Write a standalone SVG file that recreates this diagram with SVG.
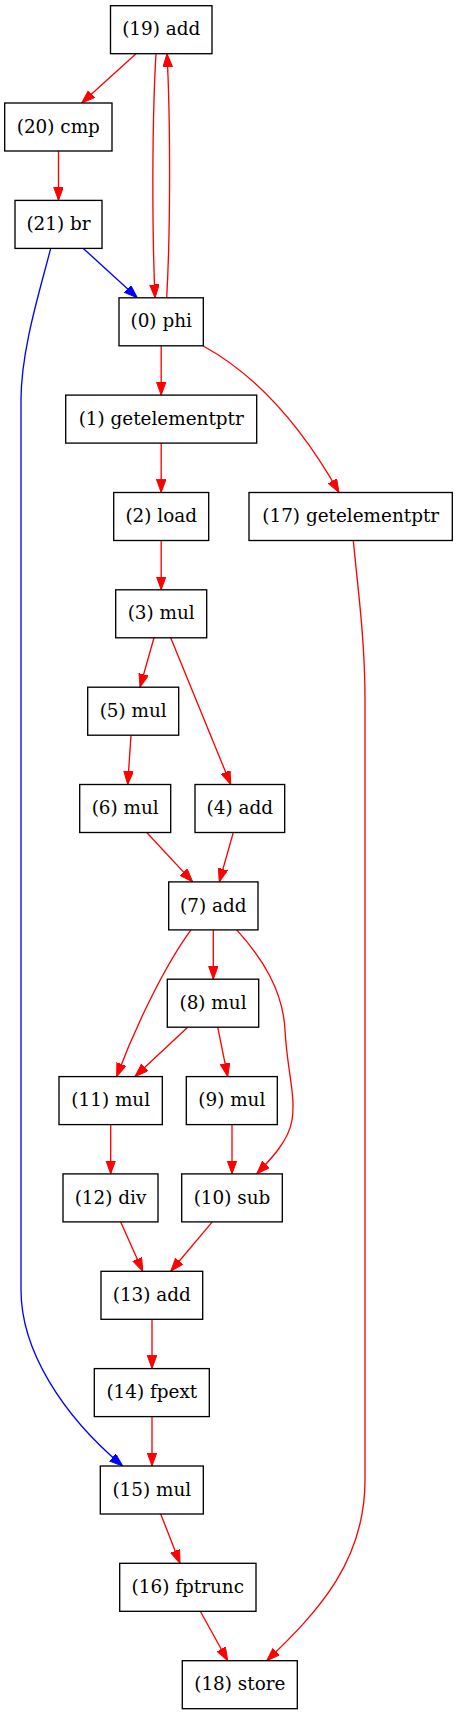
<svg xmlns="http://www.w3.org/2000/svg" width="457" height="1715" viewBox="0 0 457 1715">
<style>
rect.n{fill:#fff;stroke:#000;stroke-width:1.33}
text{font-family:"DejaVu Serif","Liberation Serif",serif;font-size:18.4px;text-anchor:middle;fill:#000}
.r{fill:none;stroke:#f00;stroke-width:1.33;marker-end:url(#ar)}
.b{fill:none;stroke:#00f;stroke-width:1.33;marker-end:url(#ab)}
</style>
<defs>
<marker id="ar" markerUnits="userSpaceOnUse" markerWidth="16" markerHeight="12" refX="13.3" refY="4.8" orient="auto"><path d="M0,0 L13.3,4.8 L0,9.6 z" fill="#f00" stroke="#f00" stroke-width="1"/></marker>
<marker id="ab" markerUnits="userSpaceOnUse" markerWidth="16" markerHeight="12" refX="13.3" refY="4.8" orient="auto"><path d="M0,0 L13.3,4.8 L0,9.6 z" fill="#00f" stroke="#00f" stroke-width="1"/></marker>
</defs>
<rect width="457" height="1715" fill="#fff"/>
<g id="edges">
<path class="r" d="M136,53.7 L81.7,103"/>
<path class="r" d="M156,53.7 C152,120 152,230 155,297.8"/>
<path class="r" d="M166.7,297.8 C170.5,230 170.5,120 167,53.7"/>
<path class="r" d="M58.5,151 L58.5,200.4"/>
<path class="b" d="M83.3,248.4 L137.3,297.8"/>
<path class="b" d="M50.7,248.4 C40,290 21,350 21,400 L21,1290 C21,1350 62,1415 122.7,1466"/>
<path class="r" d="M161.2,345.8 L161.2,395.1"/>
<path class="r" d="M203.3,346 C256,375 302,427 339,492.5"/>
<path class="r" d="M161.2,443.1 L161.2,492.5"/>
<path class="r" d="M161.2,540.5 L161.2,589.8"/>
<path class="r" d="M353.3,540.5 C358,590 365,640 365,700 L365,1480 C365,1560 320,1610 266.7,1660.7"/>
<path class="r" d="M154,637.8 L140,687.2"/>
<path class="r" d="M170.7,637.8 L230.7,784.5"/>
<path class="r" d="M131,735.2 L127.7,784.5"/>
<path class="r" d="M146.7,832.5 L192.7,881.9"/>
<path class="r" d="M233.3,832.5 L219.3,881.9"/>
<path class="r" d="M213.3,929.9 L213.3,979.2"/>
<path class="r" d="M191,929.9 C166,964 136.7,1023 116.7,1076.6"/>
<path class="r" d="M236.7,929.9 C262,958 283,990 285,1030 C287,1070 296,1095 292,1120 C289,1140 272,1158 256.7,1173.9"/>
<path class="r" d="M187.7,1027.2 L135,1076.6"/>
<path class="r" d="M217.7,1027.2 L227.7,1076.6"/>
<path class="r" d="M110.7,1124.6 L110.7,1173.9"/>
<path class="r" d="M232,1124.6 L232,1173.9"/>
<path class="r" d="M120.7,1221.9 L142.7,1271.3"/>
<path class="r" d="M212.3,1221.9 L170.7,1271.3"/>
<path class="r" d="M152,1319.3 L152,1368.6"/>
<path class="r" d="M152,1416.6 L152,1466"/>
<path class="r" d="M160.7,1514 L180,1563.3"/>
<path class="r" d="M200.3,1611.3 L227.7,1660.7"/>
</g>
<g id="n19"><rect class="n" x="110.5" y="5.7" width="101.5" height="48"/><text x="161.2" y="35.3">(19) add</text></g>
<g id="n20"><rect class="n" x="4.7" y="103" width="107.3" height="48"/><text x="58.3" y="132.6">(20) cmp</text></g>
<g id="n21"><rect class="n" x="15" y="200.4" width="87" height="48"/><text x="58.5" y="230">(21) br</text></g>
<g id="n0"><rect class="n" x="119" y="297.8" width="84.3" height="48"/><text x="161.2" y="327.4">(0) phi</text></g>
<g id="n1"><rect class="n" x="65.7" y="395.1" width="191" height="48"/><text x="161.2" y="424.7">(1) getelementptr</text></g>
<g id="n2"><rect class="n" x="113.7" y="492.5" width="95" height="48"/><text x="161.2" y="522.1">(2) load</text></g>
<g id="n17"><rect class="n" x="249" y="492.5" width="203.3" height="48"/><text x="350.7" y="522.1">(17) getelementptr</text></g>
<g id="n3"><rect class="n" x="115.7" y="589.8" width="91" height="48"/><text x="161.2" y="619.4">(3) mul</text></g>
<g id="n5"><rect class="n" x="87.7" y="687.2" width="91" height="48"/><text x="133.2" y="716.8">(5) mul</text></g>
<g id="n6"><rect class="n" x="79.7" y="784.5" width="91" height="48"/><text x="125.2" y="814.1">(6) mul</text></g>
<g id="n4"><rect class="n" x="195" y="784.5" width="89.7" height="48"/><text x="239.8" y="814.1">(4) add</text></g>
<g id="n7"><rect class="n" x="168.7" y="881.9" width="89.3" height="48"/><text x="213.3" y="911.5">(7) add</text></g>
<g id="n8"><rect class="n" x="167.3" y="979.2" width="91.4" height="48"/><text x="213" y="1008.8">(8) mul</text></g>
<g id="n11"><rect class="n" x="59" y="1076.6" width="103.3" height="48"/><text x="110.7" y="1106.2">(11) mul</text></g>
<g id="n9"><rect class="n" x="186.3" y="1076.6" width="91" height="48"/><text x="231.8" y="1106.2">(9) mul</text></g>
<g id="n12"><rect class="n" x="63" y="1173.9" width="95" height="48"/><text x="110.5" y="1203.5">(12) div</text></g>
<g id="n10"><rect class="n" x="181.7" y="1173.9" width="100.6" height="48"/><text x="232" y="1203.5">(10) sub</text></g>
<g id="n13"><rect class="n" x="101" y="1271.3" width="101.7" height="48"/><text x="151.8" y="1300.9">(13) add</text></g>
<g id="n14"><rect class="n" x="94.3" y="1368.6" width="115" height="48"/><text x="151.8" y="1398.2">(14) fpext</text></g>
<g id="n15"><rect class="n" x="100.3" y="1466" width="103" height="48"/><text x="151.8" y="1495.6">(15) mul</text></g>
<g id="n16"><rect class="n" x="119.7" y="1563.3" width="136.3" height="48"/><text x="187.8" y="1592.9">(16) fptrunc</text></g>
<g id="n18"><rect class="n" x="182.3" y="1660.7" width="115" height="48"/><text x="239.8" y="1690.3">(18) store</text></g>
</svg>
